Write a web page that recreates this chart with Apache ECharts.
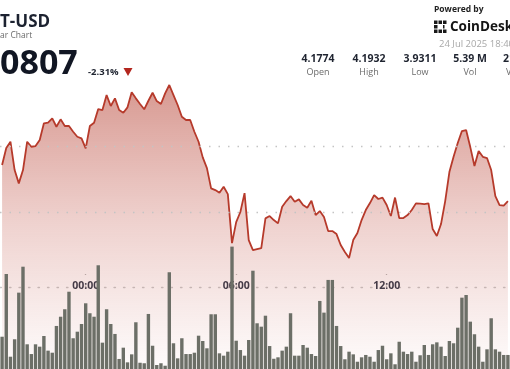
<!DOCTYPE html>
<html><head><meta charset="utf-8">
<script src="https://cdn.jsdelivr.net/npm/echarts@6/dist/echarts.min.js"></script>
<style>html,body{margin:0;padding:0;background:#fff;overflow:hidden}#c{width:510px;height:369px}</style>
</head><body><div id="c"></div>
<script>
// ---- data ----
const startTime = '20:40';      // first visible 10-minute bar
const stepMinutes = 10;
const tickLabels = ['00:00', '06:00', '12:00'];
const price = [
  4.0720, 4.0977, 4.1073, 4.0644, 4.0442, 4.0644, 4.1073, 4.0997, 4.1008, 4.1098,
  4.1352, 4.1361, 4.1427, 4.1300, 4.1412, 4.1311, 4.1311, 4.1224, 4.1148, 4.1124,
  4.0973, 4.1311, 4.1361, 4.1568, 4.1553, 4.1780, 4.1614, 4.1730, 4.1553, 4.1512,
  4.1594, 4.1821, 4.1730, 4.1644, 4.1564, 4.1694, 4.1815, 4.1689, 4.1644, 4.1806,
  4.1932, 4.1780, 4.1629, 4.1452, 4.1402, 4.1402, 4.1224, 4.1073, 4.0836, 4.0674,
  4.0367, 4.0341, 4.0300, 4.0391, 4.0280, 3.9538, 3.9856, 4.0008, 4.0295, 3.9583,
  3.9432, 3.9447, 3.9462, 3.9912, 3.9947, 3.9886, 3.9836, 4.0088, 4.0174, 4.0250,
  4.0164, 4.0200, 4.0114, 4.0073, 4.0179, 3.9962, 4.0023, 3.9932, 3.9720, 3.9720,
  3.9674, 3.9508, 3.9402, 3.9311, 3.9583, 3.9689, 3.9886, 4.0038, 4.0144, 4.0265,
  4.0205, 4.0227, 4.0114, 3.9947, 4.0227, 3.9917, 3.9917, 3.9962, 4.0038, 4.0139,
  4.0136, 4.0129, 4.0139, 3.9750, 3.9644, 3.9826, 4.0174, 4.0614, 4.0845, 4.1053,
  4.1235, 4.1250, 4.0992, 4.0705, 4.0932, 4.0845, 4.0826, 4.0644, 4.0250, 4.0114,
  4.0106, 4.0174
];
const volume = [ // thousands
  31.5, 92.7, 12.0, 29.0, 74.5, 99.8, 24.1, 14.6, 24.1, 21.8,
  32.2, 17.9, 15.9, 42.0, 51.0, 58.3, 75.4, 30.0, 36.4, 43.9,
  64.1, 54.4, 51.0, 101.2, 25.7, 58.3, 43.9, 34.2, 9.8, 20.8,
  6.5, 14.3, 45.6, 6.1, 5.6, 53.7, 22.7, 3.9, 5.6, 3.2,
  94.4, 25.1, 10.4, 30.0, 14.6, 14.6, 15.9, 32.5, 27.3, 20.2,
  53.4, 53.4, 15.3, 13.0, 16.9, 119.4, 27.6, 18.5, 13.0, 28.3,
  95.9, 44.6, 41.3, 52.0, 22.4, 10.0, 11.4, 17.9, 21.8, 54.4,
  13.0, 13.0, 23.4, 20.8, 14.6, 12.7, 66.4, 55.0, 86.9, 86.9,
  42.0, 22.4, 9.5, 16.9, 14.3, 7.1, 11.4, 13.7, 12.0, 7.1,
  18.5, 22.7, 9.5, 15.3, 4.6, 26.6, 16.9, 14.6, 16.9, 7.1,
  13.4, 23.4, 13.7, 24.1, 26.0, 21.8, 12.7, 27.3, 25.1, 40.3,
  69.6, 72.2, 46.2, 33.9, 21.8, 7.1, 19.2, 49.5, 19.2, 16.9,
  13.7, 13.7
];
const gridLevels = [4.0, 4.1];
const statValues = ['4.1774', '4.1932', '3.9311', '5.39 M', '21'];
const statNames = ['Open', 'High', 'Low', 'Vol', 'V'];

// ---- categories: 10-minute slots ----
const categories = [];
{
  let [h, m] = startTime.split(':').map(Number);
  let t = h * 60 + m;
  for (let i = 0; i < price.length; i++) {
    const mm = ((t + i * stepMinutes) % 1440 + 1440) % 1440;
    categories.push(String(Math.floor(mm / 60)).padStart(2, '0') + ':' + String(mm % 60).padStart(2, '0'));
  }
}

const FONT = "'Open Sans', 'Noto Sans', sans-serif";
const showTick = (idx, val) => tickLabels.includes(val);

const chart = echarts.init(document.getElementById('c'), null, { renderer: 'canvas' });

const statX = [318, 369, 420, 470, 503];
const statGraphics = [];
statValues.forEach((v, k) => {
  const last = k === statValues.length - 1;
  statGraphics.push({ type: 'text', x: statX[k], y: 59.5, style: { text: v, font: `bold 10.5px ${FONT}`, fill: '#1f2430', align: last ? 'left' : 'center', verticalAlign: 'middle' } });
  statGraphics.push({ type: 'text', x: last ? 506 : statX[k], y: 72, style: { text: statNames[k], font: `9px ${FONT}`, fill: '#6b6b6b', align: last ? 'left' : 'center', verticalAlign: 'middle' } });
});

const logoBlocks = [[0,0],[0,4.5],[0,9],[4.5,0],[9,0],[4.5,9],[9,9],[9,4.5]].map(([dx, dy], k) => ({
  type: 'rect', shape: { x: 434 + dx, y: 20.5 + dy, width: k === 7 ? 1.5 : 3.5, height: 3.5 }, style: { fill: '#1a1a1a' }
}));

chart.setOption({
  animation: false,
  grid: [
    { left: -1.1, right: -2.5, top: 0, bottom: 0 },
    { left: -1.1, right: -2.5, top: 205, bottom: 0 }
  ],
  xAxis: [
    { type: 'category', gridIndex: 0, data: categories, show: false },
    {
      type: 'category', gridIndex: 1, data: categories, offset: -82,
      axisLine: { show: true, lineStyle: { color: '#c6c6c6', type: [1.5, 8], width: 1.3 } },
      axisTick: { show: true, inside: true, length: 13, alignWithLabel: true, interval: showTick, lineStyle: { color: '#b5b5b5', type: [1.5, 10.5], width: 1.3 } },
      axisLabel: { interval: showTick, margin: -6, color: '#2a3344', fontSize: 10.5, fontWeight: 'bold', fontFamily: FONT }
    }
  ],
  yAxis: [
    { type: 'value', gridIndex: 0, min: 3.763, max: 4.322, show: false },
    { type: 'value', gridIndex: 1, min: 0, max: 160, show: false }
  ],
  series: [
    {
      type: 'line', xAxisIndex: 0, yAxisIndex: 0, data: price, symbol: 'none', z: 1,
      lineStyle: { width: 0 },
      areaStyle: {
        origin: 'start',
        color: new echarts.graphic.LinearGradient(0, 0, 0, 1, [
          { offset: 0, color: 'rgba(184,72,58,0.8)' },
          { offset: 0.5, color: 'rgba(196,90,78,0.38)' },
          { offset: 1, color: 'rgba(200,100,90,0.03)' }
        ])
      },
      markLine: {
        silent: true, symbol: ['none', 'none'], label: { show: false },
        lineStyle: { color: '#c4c4c4', type: [1.5, 8], width: 1.3 },
        data: gridLevels.map(v => ({ yAxis: v }))
      }
    },
    {
      type: 'bar', xAxisIndex: 1, yAxisIndex: 1, data: volume, barWidth: 3.4, z: 2,
      itemStyle: { color: '#6c6f67' }
    },
    {
      type: 'line', xAxisIndex: 0, yAxisIndex: 0, data: price, symbol: 'none', z: 3,
      lineStyle: { color: '#b63a2b', width: 1.8 }
    }
  ],
  graphic: [
    { type: 'text', x: 0, y: 22.5, style: { text: 'T-USD', font: `bold 17px ${FONT}`, fill: '#1c2230', verticalAlign: 'middle' } },
    { type: 'text', x: 0, y: 36, style: { text: 'ar Chart', font: `8.5px ${FONT}`, fill: '#6b6b6b', verticalAlign: 'middle' } },
    { type: 'text', x: 0, y: 64.5, style: { text: '0807', font: `bold 34px ${FONT}`, fill: '#111623', verticalAlign: 'middle' } },
    { type: 'text', x: 88, y: 72.5, style: { text: '-2.31%', font: `bold 9.5px ${FONT}`, fill: '#1f2430', verticalAlign: 'middle' } },
    { type: 'polygon', shape: { points: [[123.5, 68], [132.5, 68], [128, 76]] }, style: { fill: '#b3261e' } },
    { type: 'text', x: 434, y: 9.5, style: { text: 'Powered by', font: `bold 8.5px ${FONT}`, fill: '#222', verticalAlign: 'middle' } },
    ...logoBlocks,
    { type: 'text', x: 450, y: 27.5, style: { text: 'CoinDesk', font: `bold 13.5px ${FONT}`, fill: '#141414', verticalAlign: 'middle' } },
    { type: 'text', x: 439, y: 44, style: { text: '24 Jul 2025 18:40', font: `9.5px ${FONT}`, fill: '#a8a8a8', verticalAlign: 'middle' } },
    ...statGraphics
  ]
});
</script>
</body></html>
